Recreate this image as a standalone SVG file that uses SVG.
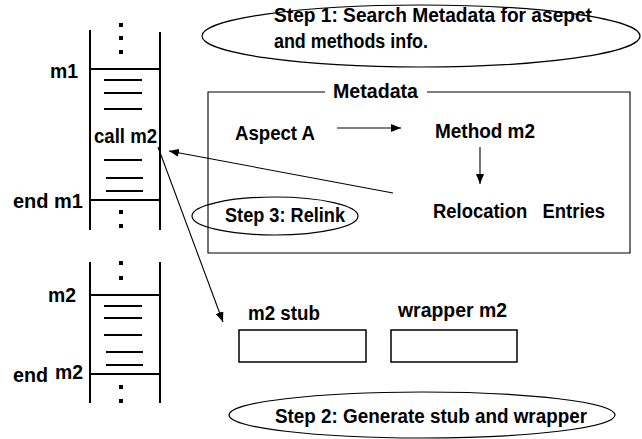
<svg xmlns="http://www.w3.org/2000/svg" width="642" height="439" viewBox="0 0 642 439">
  <style>
    text { font-family: "Liberation Sans", Arial, sans-serif; font-weight: bold; font-size: 20px; fill: #000; }
    .wall { stroke: #000; stroke-width: 2; fill: none; }
    .code { stroke: #000; stroke-width: 2; fill: none; }
    .box { stroke: #000; stroke-width: 1.5; fill: #fff; }
    .oval { stroke: #000; stroke-width: 1.2; fill: none; }
    .link { stroke: #000; stroke-width: 1.1; fill: none; }
    .dot { fill: #000; }
  </style>
  <defs>
    <marker id="head" viewBox="0 0 10 8" refX="10" refY="4" markerWidth="10" markerHeight="8" markerUnits="userSpaceOnUse" orient="auto">
      <path d="M0,0 L10,4 L0,8 Z" fill="#000"/>
    </marker>
  </defs>

  <!-- upper call stack: m1 -->
  <g id="stack-m1">
    <line class="wall" x1="90" y1="30" x2="90" y2="230"/>
    <line class="wall" x1="160" y1="32" x2="160" y2="230"/>
    <rect class="dot" x="119" y="23" width="4" height="4"/>
    <rect class="dot" x="119" y="36" width="4" height="4"/>
    <rect class="dot" x="119" y="50" width="4" height="4"/>
    <line class="wall" x1="90" y1="69" x2="160" y2="69"/>
    <line class="code" x1="104" y1="80" x2="142" y2="80"/>
    <line class="code" x1="104" y1="93" x2="142" y2="93"/>
    <line class="code" x1="104" y1="109" x2="142" y2="109"/>
    <text x="94" y="143" textLength="63" lengthAdjust="spacingAndGlyphs">call m2</text>
    <line class="code" x1="104" y1="160" x2="142" y2="160"/>
    <line class="code" x1="106" y1="178" x2="143" y2="178"/>
    <line class="code" x1="106" y1="191" x2="143" y2="191"/>
    <line class="wall" x1="90" y1="200" x2="160" y2="200"/>
    <rect class="dot" x="119" y="210" width="4" height="4"/>
    <rect class="dot" x="119" y="224" width="4" height="4"/>
    <text x="50" y="78" textLength="28" lengthAdjust="spacingAndGlyphs">m1</text>
    <text x="13" y="208" textLength="70" lengthAdjust="spacingAndGlyphs">end m1</text>
  </g>

  <!-- lower call stack: m2 -->
  <g id="stack-m2">
    <line class="wall" x1="90" y1="262" x2="90" y2="403"/>
    <line class="wall" x1="160" y1="262" x2="160" y2="403"/>
    <rect class="dot" x="119" y="261" width="4" height="4"/>
    <rect class="dot" x="119" y="276" width="4" height="4"/>
    <line class="wall" x1="90" y1="295" x2="160" y2="295"/>
    <line class="code" x1="104" y1="306" x2="142" y2="306"/>
    <line class="code" x1="104" y1="318" x2="142" y2="318"/>
    <line class="code" x1="104" y1="335" x2="142" y2="335"/>
    <line class="code" x1="106" y1="352" x2="143" y2="352"/>
    <line class="code" x1="106" y1="365" x2="143" y2="365"/>
    <line class="wall" x1="90" y1="374" x2="160" y2="374"/>
    <rect class="dot" x="119" y="385" width="4" height="4"/>
    <rect class="dot" x="119" y="399" width="4" height="4"/>
    <text x="48" y="302" textLength="28" lengthAdjust="spacingAndGlyphs">m2</text>
    <text x="13" y="382" textLength="35" lengthAdjust="spacingAndGlyphs">end</text>
    <text x="55" y="379" textLength="28" lengthAdjust="spacingAndGlyphs">m2</text>
  </g>

  <!-- step 1 -->
  <g id="step1">
    <ellipse class="oval" cx="421" cy="36" rx="219" ry="31"/>
    <text x="274" y="22" textLength="318" lengthAdjust="spacingAndGlyphs">Step 1: Search Metadata for asepct</text>
    <text x="274" y="48" textLength="154" lengthAdjust="spacingAndGlyphs">and methods info.</text>
  </g>

  <!-- metadata store -->
  <g id="metadata">
    <path class="link" d="M325,92 H208 V253 H630 V92 H427" stroke-width="1.5"/>
    <text x="333" y="98" textLength="85" lengthAdjust="spacingAndGlyphs">Metadata</text>
    <text x="235" y="140" textLength="80" lengthAdjust="spacingAndGlyphs">Aspect A</text>
    <text x="435" y="138" textLength="100" lengthAdjust="spacingAndGlyphs">Method m2</text>
    <text x="433" y="218" textLength="172" lengthAdjust="spacingAndGlyphs" xml:space="preserve">Relocation   Entries</text>
  </g>

  <!-- step 3 -->
  <g id="step3">
    <ellipse class="oval" cx="275" cy="216" rx="83" ry="19"/>
    <text x="225" y="222" textLength="120" lengthAdjust="spacingAndGlyphs">Step 3: Relink</text>
  </g>

  <!-- generated code -->
  <g id="m2-stub">
    <rect class="box" x="239" y="330" width="127" height="32"/>
    <text x="248" y="320" textLength="72" lengthAdjust="spacingAndGlyphs">m2 stub</text>
  </g>
  <g id="wrapper-m2">
    <rect class="box" x="391" y="330" width="126" height="32"/>
    <text x="398" y="317" textLength="109" lengthAdjust="spacingAndGlyphs">wrapper m2</text>
  </g>

  <!-- step 2 -->
  <g id="step2">
    <ellipse class="oval" cx="422" cy="415" rx="193" ry="23"/>
    <text x="275" y="423" textLength="312" lengthAdjust="spacingAndGlyphs">Step 2: Generate stub and wrapper</text>
  </g>

  <!-- connectors -->
  <g id="connectors">
    <line class="link" x1="337" y1="128" x2="401" y2="128" marker-end="url(#head)"/>
    <line class="link" x1="480" y1="147" x2="480" y2="184" marker-end="url(#head)"/>
    <line class="link" x1="393" y1="193" x2="169" y2="151" marker-end="url(#head)"/>
    <line class="link" x1="158" y1="147" x2="223" y2="322" marker-end="url(#head)"/>
  </g>
</svg>
